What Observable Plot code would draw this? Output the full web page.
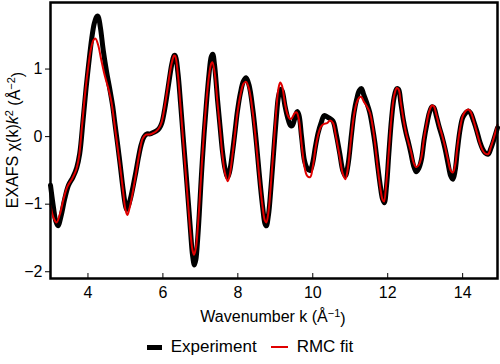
<!DOCTYPE html>
<html>
<head>
<meta charset="utf-8">
<script src="https://cdn.jsdelivr.net/npm/d3@7"></script>
<script src="https://cdn.jsdelivr.net/npm/@observablehq/plot@0.6"></script>
<style>
  body { margin: 0; background: #fff; font-family: "Liberation Sans", Arial, sans-serif; }
  #legend { height: 34px; display: flex; justify-content: center; align-items: center; font-size: 17px; color: #000; gap: 0; }
  .sw { display: inline-block; width: 15px; margin-right: 9px; }
</style>
</head>
<body>
<div id="chart"></div>
<div id="legend">
  <span class="sw" style="height:5px;background:#000"></span><span style="margin-right:14px">Experiment</span>
  <span class="sw" style="height:2px;background:#e00000;width:17px"></span><span>RMC fit</span>
</div>
<script>
const expK = [3.00,3.08,3.14,3.20,3.28,3.38,3.48,3.60,3.70,3.78,3.87,3.95,4.02,4.10,4.17,4.24,4.27,4.33,4.41,4.50,4.59,4.66,4.72,4.80,4.86,4.93,4.99,5.03,5.08,5.15,5.21,5.28,5.35,5.42,5.50,5.58,5.66,5.74,5.82,5.90,5.97,6.04,6.11,6.18,6.24,6.30,6.33,6.40,6.47,6.54,6.61,6.68,6.74,6.79,6.84,6.88,6.93,6.97,7.03,7.10,7.17,7.23,7.29,7.33,7.38,7.46,7.53,7.59,7.66,7.73,7.78,7.86,7.93,7.99,8.07,8.15,8.22,8.30,8.40,8.47,8.53,8.60,8.67,8.72,8.76,8.82,8.88,8.93,8.98,9.03,9.08,9.14,9.18,9.26,9.33,9.40,9.45,9.52,9.58,9.63,9.70,9.78,9.85,9.93,10.00,10.07,10.14,10.22,10.30,10.36,10.45,10.54,10.62,10.72,10.80,10.87,10.94,11.03,11.10,11.17,11.24,11.30,11.36,11.44,11.52,11.59,11.66,11.73,11.80,11.86,11.91,11.97,12.03,12.10,12.17,12.24,12.29,12.35,12.42,12.49,12.55,12.62,12.69,12.76,12.83,12.90,12.97,13.04,13.11,13.18,13.23,13.30,13.37,13.45,13.53,13.61,13.68,13.74,13.80,13.86,13.93,14.00,14.08,14.15,14.21,14.30,14.38,14.46,14.53,14.60,14.68,14.75,14.83,14.93];
const expChi = [-0.72,-1.05,-1.25,-1.32,-1.18,-0.92,-0.72,-0.60,-0.46,-0.25,0.25,0.72,1.08,1.45,1.68,1.78,1.78,1.62,1.27,0.95,0.68,0.45,0.19,-0.15,-0.42,-0.75,-0.99,-1.08,-1.02,-0.88,-0.72,-0.52,-0.30,-0.12,0.00,0.04,0.04,0.06,0.08,0.12,0.20,0.38,0.62,0.88,1.08,1.20,1.20,0.95,0.50,0.00,-0.48,-0.98,-1.42,-1.75,-1.90,-1.82,-1.50,-1.15,-0.55,0.05,0.55,0.92,1.18,1.22,1.05,0.53,0.12,-0.22,-0.48,-0.60,-0.52,-0.22,0.10,0.38,0.65,0.82,0.87,0.76,0.40,0.05,-0.30,-0.72,-1.08,-1.28,-1.32,-1.15,-0.78,-0.42,-0.05,0.30,0.58,0.70,0.68,0.45,0.28,0.17,0.16,0.27,0.37,0.32,0.00,-0.36,-0.47,-0.50,-0.38,-0.15,0.05,0.20,0.31,0.30,0.27,0.23,0.05,-0.25,-0.50,-0.58,-0.42,0.02,0.35,0.55,0.68,0.71,0.62,0.50,0.36,0.15,-0.10,-0.42,-0.72,-0.92,-0.98,-0.72,-0.25,0.25,0.58,0.71,0.70,0.50,0.24,0.05,-0.08,-0.25,-0.43,-0.52,-0.47,-0.34,-0.05,0.17,0.35,0.44,0.43,0.30,0.15,0.00,-0.18,-0.40,-0.58,-0.63,-0.50,-0.20,0.10,0.28,0.35,0.38,0.35,0.22,0.08,-0.08,-0.18,-0.24,-0.26,-0.18,-0.05,0.13];

const fitK = [3.00,3.08,3.16,3.25,3.35,3.45,3.58,3.68,3.76,3.84,3.92,4.00,4.08,4.15,4.20,4.27,4.35,4.45,4.55,4.63,4.70,4.78,4.86,4.94,5.00,5.05,5.10,5.17,5.24,5.31,5.38,5.46,5.55,5.64,5.73,5.82,5.90,5.97,6.04,6.11,6.18,6.24,6.30,6.33,6.40,6.47,6.54,6.61,6.68,6.74,6.79,6.83,6.88,6.93,6.98,7.04,7.10,7.17,7.23,7.29,7.32,7.38,7.46,7.53,7.59,7.66,7.73,7.78,7.86,7.93,7.99,8.07,8.15,8.22,8.30,8.40,8.47,8.53,8.60,8.67,8.72,8.76,8.82,8.88,8.93,8.98,9.03,9.08,9.13,9.18,9.26,9.33,9.40,9.45,9.52,9.57,9.63,9.70,9.78,9.85,9.93,10.00,10.07,10.14,10.22,10.30,10.38,10.46,10.54,10.62,10.72,10.80,10.87,10.94,11.03,11.10,11.17,11.24,11.29,11.36,11.44,11.52,11.59,11.66,11.73,11.80,11.86,11.90,11.96,12.03,12.10,12.17,12.24,12.29,12.35,12.42,12.49,12.55,12.62,12.69,12.76,12.83,12.90,12.97,13.04,13.11,13.18,13.23,13.30,13.37,13.45,13.53,13.61,13.68,13.74,13.80,13.86,13.93,14.00,14.08,14.15,14.21,14.30,14.38,14.46,14.53,14.60,14.68,14.75,14.83,14.93];
const fitChi = [-1.02,-1.20,-1.27,-1.15,-0.92,-0.74,-0.62,-0.50,-0.30,0.15,0.62,1.00,1.30,1.43,1.45,1.36,1.15,0.90,0.70,0.50,0.22,-0.12,-0.45,-0.82,-1.08,-1.16,-1.08,-0.90,-0.68,-0.45,-0.22,-0.03,0.03,0.03,0.05,0.08,0.13,0.22,0.42,0.66,0.92,1.10,1.20,1.19,0.92,0.45,-0.05,-0.55,-1.05,-1.45,-1.68,-1.75,-1.65,-1.35,-0.95,-0.40,0.10,0.58,0.90,1.08,1.10,0.95,0.48,0.08,-0.28,-0.55,-0.66,-0.58,-0.25,0.08,0.36,0.62,0.78,0.81,0.70,0.35,0.00,-0.35,-0.75,-1.08,-1.24,-1.27,-1.10,-0.72,-0.35,0.05,0.42,0.70,0.80,0.75,0.48,0.32,0.26,0.28,0.35,0.36,0.25,-0.10,-0.45,-0.58,-0.60,-0.45,-0.18,0.02,0.15,0.19,0.20,0.24,0.20,0.00,-0.30,-0.55,-0.63,-0.45,0.02,0.32,0.50,0.58,0.59,0.52,0.45,0.36,0.18,-0.10,-0.45,-0.75,-0.93,-0.96,-0.70,-0.22,0.28,0.60,0.72,0.70,0.50,0.25,0.05,-0.08,-0.22,-0.38,-0.45,-0.42,-0.30,-0.02,0.20,0.38,0.46,0.45,0.32,0.17,0.02,-0.15,-0.35,-0.50,-0.53,-0.42,-0.15,0.12,0.30,0.38,0.40,0.37,0.22,0.06,-0.10,-0.20,-0.25,-0.26,-0.16,-0.02,0.18];

const xTicks = [4, 6, 8, 10, 12, 14];
const yTicks = [-2, -1, 0, 1];

const expData = expK.map((k, i) => ({k, v: expChi[i]}));
const fitData = fitK.map((k, i) => ({k, v: fitChi[i]}));

const plot = Plot.plot({
  width: 500,
  height: 330,
  marginLeft: 50,
  marginRight: 3,
  marginTop: 2,
  marginBottom: 52,
  style: {fontFamily: '"Liberation Sans", Arial, sans-serif', fontSize: "16px", color: "#000", background: "#fff"},
  x: {domain: [3, 14.93]},
  y: {domain: [-2.1, 1.985]},
  marks: [
    Plot.axisX({ticks: xTicks, tickSize: -5, tickPadding: 13, label: null, tickFormat: d => String(d), fontSize: 16}),
    Plot.axisY({ticks: yTicks, tickSize: 5, tickPadding: 3, label: null, tickFormat: d => String(d).replace("-", "\u2212"), fontSize: 16}),
    Plot.line(expData, {x: "k", y: "v", stroke: "#000", strokeWidth: 5, curve: "catmull-rom"}),
    Plot.line(fitData, {x: "k", y: "v", stroke: "#e00000", strokeWidth: 2, curve: "catmull-rom"}),
    Plot.frame({stroke: "#000", strokeWidth: 2.5})
  ]
});
document.getElementById("chart").appendChild(plot);

const svg = d3.select(plot);
// x label
const xl = svg.append("text")
  .attr("x", 273).attr("y", 322)
  .attr("text-anchor", "middle")
  .attr("font-size", 16)
  .attr("fill", "#000");
xl.append("tspan").text("Wavenumber k (Å");
xl.append("tspan").attr("dy", "-0.45em").attr("font-size", 11).text("\u22121");
xl.append("tspan").attr("dy", "0.45em").text(")");
// y label
const yl = svg.append("text")
  .attr("transform", "translate(18,140) rotate(-90)")
  .attr("text-anchor", "middle")
  .attr("font-size", 16)
  .attr("fill", "#000");
yl.append("tspan").text("EXAFS χ(k)");
yl.append("tspan").attr("font-style", "italic").text("k");
yl.append("tspan").attr("dy", "-0.45em").attr("font-size", 11).text("2");
yl.append("tspan").attr("dy", "0.45em").text(" (Å");
yl.append("tspan").attr("dy", "-0.45em").attr("font-size", 11).text("\u22122");
yl.append("tspan").attr("dy", "0.45em").text(")");
</script>
</body>
</html>
